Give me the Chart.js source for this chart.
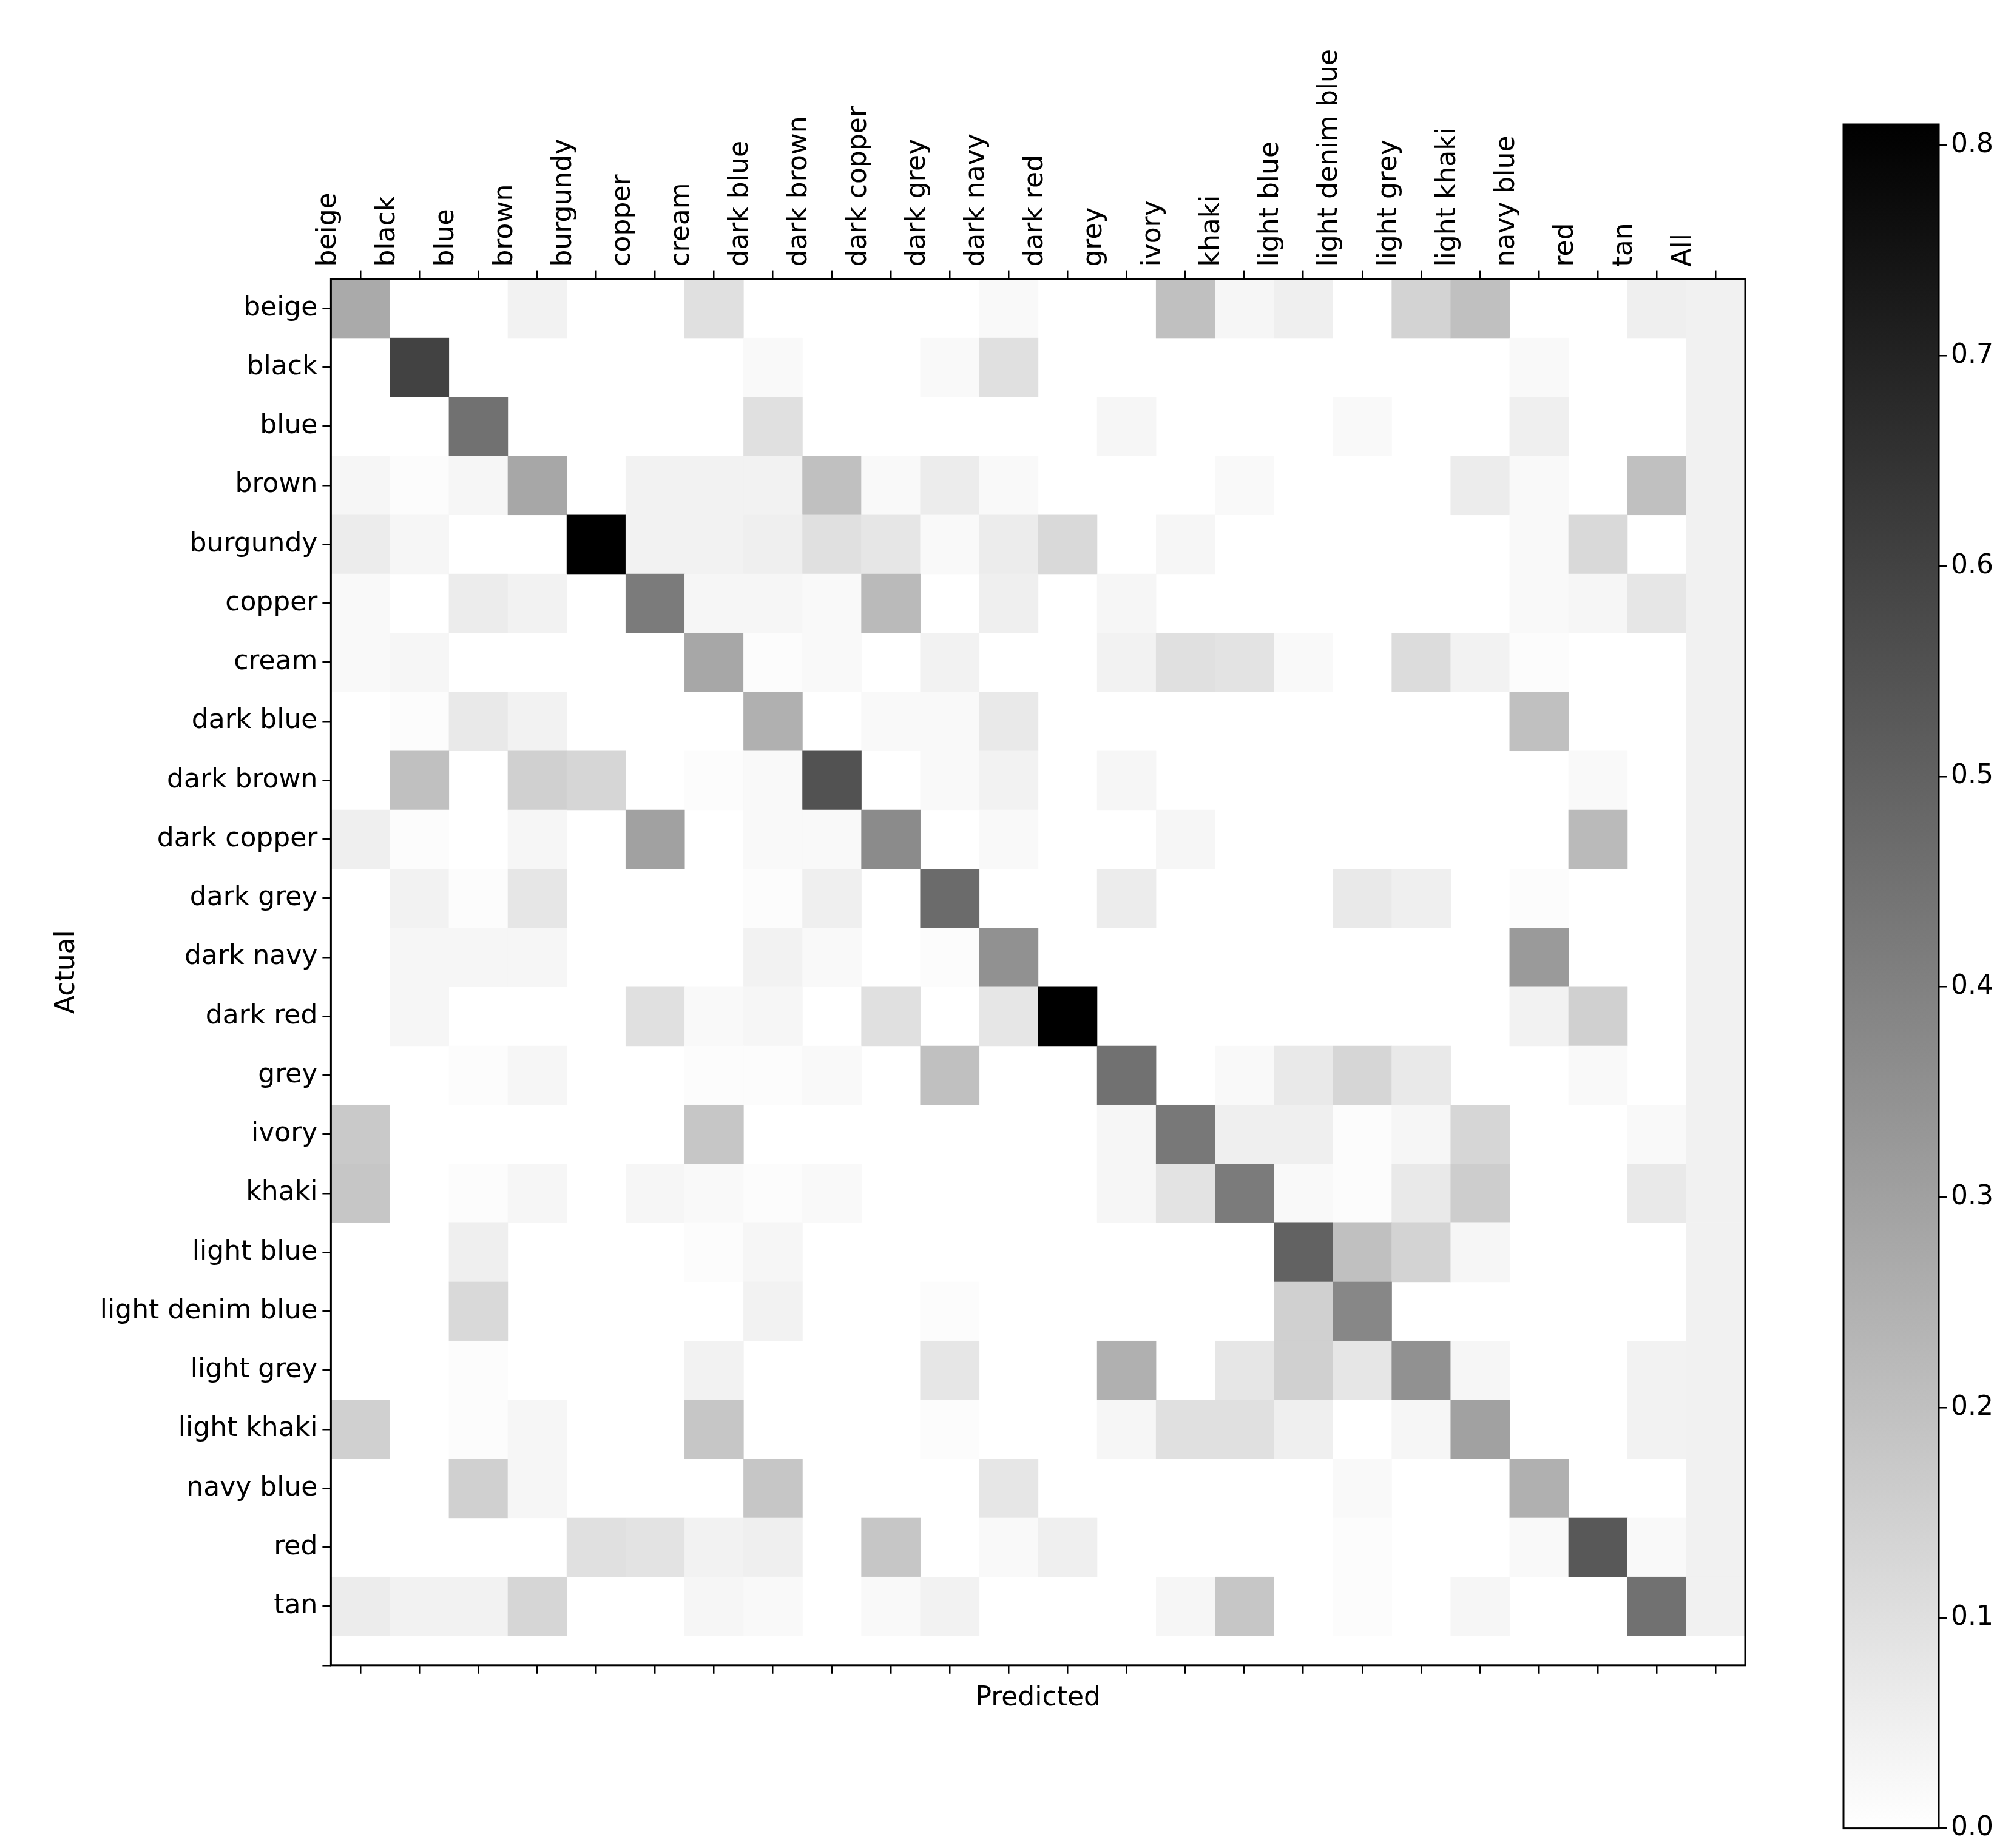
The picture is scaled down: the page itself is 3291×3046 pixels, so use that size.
<!DOCTYPE html>
<html>
<head>
<meta charset="utf-8">
<script src="https://cdn.jsdelivr.net/npm/chart.js@4/dist/chart.umd.min.js"></script>
<style>
  body { margin: 0; background: #fff; }
  #main { position: absolute; left: 0; top: 0; }
  #bar { position: absolute; left: 2980px; top: 0; }
</style>
</head>
<body>
<canvas id="main" width="2980" height="3046"></canvas>
<canvas id="bar" width="311" height="3046"></canvas>
<script>
"use strict";

// --- Data --------------------------------------------------------------------

const COLS = ["beige", "black", "blue", "brown", "burgundy", "copper", "cream",
  "dark blue", "dark brown", "dark copper", "dark grey", "dark navy", "dark red",
  "grey", "ivory", "khaki", "light blue", "light denim blue", "light grey",
  "light khaki", "navy blue", "red", "tan", "All"];
const ROWS = COLS.slice(0, 23).concat([""]);

const VMAX = 0.81;
const ALL_COL = 0.045;

// non-zero cells per actual row: [predicted, value]
const R_BEIGE = [["beige", .27], ["brown", .04], ["cream", .10], ["dark navy", .02], ["ivory", .20], ["khaki", .03], ["light blue", .05], ["light grey", .14], ["light khaki", .20], ["tan", .05]];
const R_BLACK = [["black", .60], ["dark blue", .02], ["dark grey", .02], ["dark navy", .10], ["navy blue", .02]];
const R_BLUE = [["blue", .45], ["dark blue", .10], ["grey", .03], ["light denim blue", .02], ["navy blue", .05]];
const R_BROWN = [["beige", .03], ["black", .01], ["blue", .03], ["brown", .28], ["copper", .04], ["cream", .04], ["dark blue", .04], ["dark brown", .20], ["dark copper", .02], ["dark grey", .06], ["dark navy", .02], ["khaki", .02], ["light khaki", .06], ["navy blue", .02], ["tan", .20]];
const R_BURGUNDY = [["beige", .06], ["black", .03], ["burgundy", .81], ["copper", .04], ["cream", .04], ["dark blue", .05], ["dark brown", .10], ["dark copper", .08], ["dark grey", .02], ["dark navy", .06], ["dark red", .12], ["ivory", .03], ["navy blue", .02], ["red", .12]];
const R_COPPER = [["beige", .02], ["blue", .06], ["brown", .04], ["copper", .42], ["cream", .03], ["dark blue", .03], ["dark brown", .02], ["dark copper", .22], ["dark navy", .05], ["grey", .03], ["navy blue", .02], ["red", .03], ["tan", .08]];
const R_CREAM = [["beige", .02], ["black", .03], ["cream", .28], ["dark blue", .01], ["dark brown", .02], ["dark grey", .04], ["grey", .04], ["ivory", .10], ["khaki", .09], ["light blue", .02], ["light grey", .11], ["light khaki", .04], ["navy blue", .01]];
const R_DARKBLUE = [["black", .01], ["blue", .07], ["brown", .04], ["dark blue", .25], ["dark copper", .02], ["dark grey", .02], ["dark navy", .07], ["navy blue", .20]];
const R_DARKBROWN = [["black", .20], ["brown", .15], ["burgundy", .13], ["cream", .01], ["dark blue", .02], ["dark brown", .55], ["dark grey", .02], ["dark navy", .04], ["grey", .03], ["red", .02]];
const R_DARKCOPPER = [["beige", .05], ["black", .01], ["brown", .03], ["copper", .30], ["dark blue", .02], ["dark brown", .02], ["dark copper", .37], ["dark navy", .02], ["ivory", .03], ["red", .22]];
const R_DARKGREY = [["black", .04], ["blue", .01], ["brown", .08], ["dark blue", .01], ["dark brown", .05], ["dark grey", .47], ["grey", .06], ["light denim blue", .07], ["light grey", .05], ["navy blue", .01]];
const R_DARKNAVY = [["black", .03], ["blue", .03], ["brown", .03], ["dark blue", .04], ["dark brown", .02], ["dark grey", .01], ["dark navy", .35], ["navy blue", .32]];
const R_DARKRED = [["black", .03], ["copper", .10], ["cream", .02], ["dark blue", .03], ["dark copper", .10], ["dark navy", .08], ["dark red", .81], ["navy blue", .04], ["red", .15]];
const R_GREY = [["blue", .01], ["brown", .03], ["cream", .01], ["dark blue", .01], ["dark brown", .02], ["dark grey", .20], ["grey", .45], ["khaki", .02], ["light blue", .07], ["light denim blue", .13], ["light grey", .07], ["red", .02]];
const R_IVORY = [["beige", .17], ["cream", .18], ["grey", .03], ["ivory", .43], ["khaki", .05], ["light blue", .05], ["light denim blue", .01], ["light grey", .03], ["light khaki", .13], ["tan", .02]];
const R_KHAKI = [["beige", .18], ["blue", .01], ["brown", .03], ["copper", .03], ["cream", .02], ["dark blue", .01], ["dark brown", .02], ["grey", .03], ["ivory", .09], ["khaki", .42], ["light blue", .02], ["light denim blue", .01], ["light grey", .07], ["light khaki", .16], ["tan", .07]];
const R_LIGHTBLUE = [["blue", .05], ["cream", .01], ["dark blue", .03], ["light blue", .50], ["light denim blue", .20], ["light grey", .14], ["light khaki", .03]];
const R_LIGHTDENIM = [["blue", .12], ["dark blue", .04], ["dark grey", .01], ["light blue", .15], ["light denim blue", .38]];
const R_LIGHTGREY = [["blue", .01], ["cream", .04], ["dark grey", .08], ["grey", .25], ["khaki", .08], ["light blue", .15], ["light denim blue", .08], ["light grey", .35], ["light khaki", .03], ["tan", .04]];
const R_LIGHTKHAKI = [["beige", .15], ["blue", .01], ["brown", .03], ["cream", .18], ["dark grey", .01], ["grey", .03], ["ivory", .10], ["khaki", .10], ["light blue", .05], ["light grey", .03], ["light khaki", .30], ["tan", .04]];
const R_NAVYBLUE = [["blue", .15], ["brown", .03], ["dark blue", .18], ["dark navy", .08], ["light denim blue", .02], ["navy blue", .25]];
const R_RED = [["burgundy", .10], ["copper", .09], ["cream", .04], ["dark blue", .05], ["dark copper", .18], ["dark navy", .02], ["dark red", .05], ["light denim blue", .01], ["navy blue", .02], ["red", .53], ["tan", .02]];
const R_TAN = [["beige", .06], ["black", .04], ["blue", .04], ["brown", .13], ["cream", .03], ["dark blue", .02], ["dark copper", .02], ["dark grey", .04], ["ivory", .03], ["khaki", .18], ["light denim blue", .01], ["light khaki", .03], ["tan", .45]];

const MATRIX_ROWS = [R_BEIGE, R_BLACK, R_BLUE, R_BROWN, R_BURGUNDY, R_COPPER, R_CREAM,
  R_DARKBLUE, R_DARKBROWN, R_DARKCOPPER, R_DARKGREY, R_DARKNAVY, R_DARKRED, R_GREY,
  R_IVORY, R_KHAKI, R_LIGHTBLUE, R_LIGHTDENIM, R_LIGHTGREY, R_LIGHTKHAKI, R_NAVYBLUE,
  R_RED, R_TAN];

// --- Helpers -----------------------------------------------------------------

const FONT = "'DejaVu Sans', sans-serif";
const grey = (v) => {
  const g = Math.round(255 * (1 - Math.min(v, VMAX) / VMAX));
  return `rgb(${g},${g},${g})`;
};
const fixTicks = (n) => (scale) => {
  scale.ticks = Array.from({ length: n }, (_, i) => ({ value: i }));
};

const cells = [];
MATRIX_ROWS.forEach((row, r) => {
  row.forEach(([name, v]) => cells.push({ r, c: COLS.indexOf(name), v }));
  cells.push({ r, c: 23, v: ALL_COL });
});

// --- Heatmap -----------------------------------------------------------------

const heatPlugin = {
  id: "heat",
  beforeDatasetsDraw(chart) {
    const { ctx, scales: { x, y } } = chart;
    cells.forEach(({ r, c, v }) => {
      const x0 = x.getPixelForValue(c - 0.5), x1 = x.getPixelForValue(c + 0.5);
      const y0 = y.getPixelForValue(r - 0.5), y1 = y.getPixelForValue(r + 0.5);
      ctx.fillStyle = grey(v);
      ctx.fillRect(x0, y0, x1 - x0 + 0.5, y1 - y0 + 0.5);
    });
  },
  afterDraw(chart) {
    const { ctx, chartArea: a } = chart;
    ctx.strokeStyle = "#000";
    ctx.lineWidth = 3;
    ctx.strokeRect(a.left, a.top, a.right - a.left, a.bottom - a.top);
  },
};

const tickGrid = { display: true, drawOnChartArea: false, drawTicks: true, tickLength: 14, color: "#000", lineWidth: 2.5 };

new Chart(document.getElementById("main"), {
  type: "scatter",
  data: { datasets: [] },
  options: {
    responsive: false, animation: false,
    layout: { padding: { left: 64, top: 75, right: 104, bottom: 220 } },
    plugins: { legend: { display: false }, tooltip: { enabled: false } },
    scales: {
      xTop: {
        type: "linear", position: "top", min: -0.5, max: 23.5,
        afterBuildTicks: fixTicks(24),
        grid: tickGrid, border: { display: false },
        ticks: { callback: (v) => COLS[v], maxRotation: 90, minRotation: 90, autoSkip: false,
          color: "#000", font: { family: FONT, size: 44 }, padding: 6 },
      },
      x: {
        type: "linear", position: "bottom", min: -0.5, max: 23.5,
        afterBuildTicks: fixTicks(24),
        grid: tickGrid, border: { display: false },
        ticks: { callback: () => "", padding: 0 },
        title: { display: true, text: "Predicted", color: "#000", font: { family: FONT, size: 44 }, padding: 0 },
      },
      y: {
        type: "linear", reverse: true, min: -0.5, max: 23,
        afterBuildTicks: fixTicks(24),
        grid: tickGrid, border: { display: false },
        ticks: { callback: (v) => ROWS[v], autoSkip: false, color: "#000",
          font: { family: FONT, size: 44 }, padding: 8 },
        title: { display: true, text: "Actual", color: "#000", font: { family: FONT, size: 44 }, padding: 20 },
      },
    },
  },
  plugins: [heatPlugin],
});

// --- Colorbar ----------------------------------------------------------------

const CB_RANGE = [[0, VMAX]];

new Chart(document.getElementById("bar"), {
  type: "bar",
  data: {
    labels: [""],
    datasets: [{
      data: CB_RANGE,
      barPercentage: 1, categoryPercentage: 1,
      backgroundColor: (c) => {
        const a = c.chart.chartArea;
        if (!a) return "#888";
        const g = c.chart.ctx.createLinearGradient(0, a.bottom, 0, a.top);
        g.addColorStop(0, "#fff");
        g.addColorStop(1, "#000");
        return g;
      },
    }],
  },
  options: {
    responsive: false, animation: false,
    layout: { padding: { left: 58, top: 205, bottom: 29, right: 0 } },
    plugins: { legend: { display: false }, tooltip: { enabled: false } },
    scales: {
      x: { display: false },
      y: {
        position: "right", min: 0, max: VMAX,
        afterBuildTicks: (s) => { s.ticks = [0, .1, .2, .3, .4, .5, .6, .7, .8].map((value) => ({ value })); },
        grid: tickGrid, border: { display: false },
        ticks: { callback: (v) => v.toFixed(1), color: "#000", font: { family: FONT, size: 44 }, padding: 6 },
      },
    },
  },
  plugins: [{
    id: "cbBorder",
    afterDraw(chart) {
      const { ctx, chartArea: a } = chart;
      ctx.strokeStyle = "#000";
      ctx.lineWidth = 3;
      ctx.strokeRect(a.left, a.top, a.right - a.left, a.bottom - a.top);
    },
  }],
});
</script>
</body>
</html>
